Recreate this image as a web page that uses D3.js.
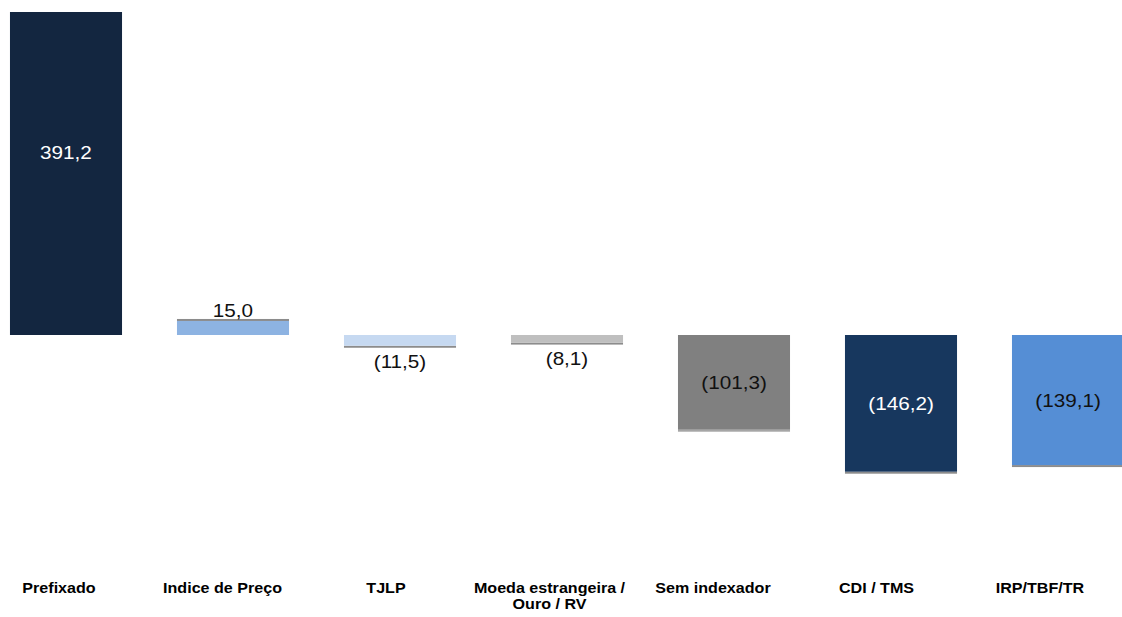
<!DOCTYPE html>
<html>
<head>
<meta charset="utf-8">
<script src="https://cdn.jsdelivr.net/npm/d3@7"></script>
<style>
  html, body { margin: 0; padding: 0; background: #fff; }
  svg { display: block; font-family: "Liberation Sans", Arial, sans-serif; }
</style>
</head>
<body>
<div id="chart"></div>
<script>
// values
const categories = ["Prefixado", "Indice de Preço", "TJLP", "Moeda estrangeira /\nOuro / RV",
                    "Sem indexador", "CDI / TMS", "IRP/TBF/TR"];
const values = [391.2, 15.0, -11.5, -8.1, -101.3, -146.2, -139.1];
const colors = ["#132640", "#8db3e2", "#c6d9f1", "#bfbfbf", "#808080", "#17375e", "#558ed5"];

const width = 1122, height = 617;
const zeroY = 335, pxPerUnit = 0.935;
const plotTop = 12;

const fmt = v => {
    const s = Math.abs(v).toFixed(1).replace(".", ",");
    return v < 0 ? "(" + s + ")" : s;
};

const data = categories.map((c, i) => ({ cat: c, value: values[i], color: colors[i] }));

const svg = d3.select("#chart").append("svg")
    .attr("width", width)
    .attr("height", height);

const x = d3.scaleBand()
    .domain(categories)
    .range([-17.5, 1151.5])
    .paddingInner(0.329)
    .paddingOuter(0.1645);

// text boxes under the bars are not exactly centred, so a looser scale for them
const xLabel = d3.scalePoint()
    .domain(categories)
    .range([59, 1040]);

const y = d3.scaleLinear()
    .domain([0, 400])
    .range([zeroY, zeroY - 400 * pxPerUnit]);

svg.append("clipPath").attr("id", "plotclip")
    .append("rect")
    .attr("x", 0).attr("y", plotTop)
    .attr("width", width).attr("height", height - plotTop);

const bars = svg.append("g").attr("clip-path", "url(#plotclip)");

// thin gray edge at the end of each bar (the shadow in the original)
bars.selectAll("rect.edge")
    .data(data.filter((d, i) => i > 0))
    .enter().append("rect")
    .attr("class", "edge")
    .attr("x", d => x(d.cat))
    .attr("width", x.bandwidth())
    .attr("y", d => d.value > 0 ? y(d.value) - 2 : y(d.value))
    .attr("height", 2)
    .attr("fill", d => d.cat === "Sem indexador" ? "#a6a6a6" : "#8c8c8c");

bars.selectAll("rect.bar")
    .data(data)
    .enter().append("rect")
    .attr("class", "bar")
    .attr("x", d => x(d.cat))
    .attr("width", x.bandwidth())
    .attr("y", d => Math.min(y(d.value), y(0)))
    .attr("height", d => Math.abs(y(d.value) - y(0)))
    .attr("fill", d => d.color);

// value labels
const sx = 1.15;
svg.append("g").selectAll("text")
    .data(data)
    .enter().append("text")
    .attr("transform", d => {
        const h = Math.abs(y(d.value) - y(0));
        let ty;
        if (h > 30) ty = (y(d.value) + y(0)) / 2 + 6.5;
        else if (d.value > 0) ty = y(d.value) - 4;
        else ty = y(d.value) + 22;
        return "translate(" + (x(d.cat) + x.bandwidth() / 2) + "," + ty + ") scale(" + sx + ",1)";
    })
    .attr("text-anchor", "middle")
    .style("font-size", "18px")
    .attr("fill", d => {
        const h = Math.abs(y(d.value) - y(0));
        return h > 30 && d3.hsl(d.color).l < 0.3 ? "#ffffff" : "#111111";
    })
    .text(d => fmt(d.value));

// category labels
const catText = svg.append("g").selectAll("text")
    .data(categories)
    .enter().append("text")
    .attr("transform", d => "translate(" + xLabel(d) + ",593) scale(" + sx + ",1)")
    .attr("text-anchor", "middle")
    .style("font-size", "14px")
    .style("font-weight", "bold")
    .attr("fill", "#000");

catText.selectAll("tspan")
    .data(d => d.split("\n"))
    .enter().append("tspan")
    .attr("x", 0)
    .attr("dy", (d, i) => i === 0 ? 0 : 16)
    .text(d => d);
</script>
</body>
</html>
